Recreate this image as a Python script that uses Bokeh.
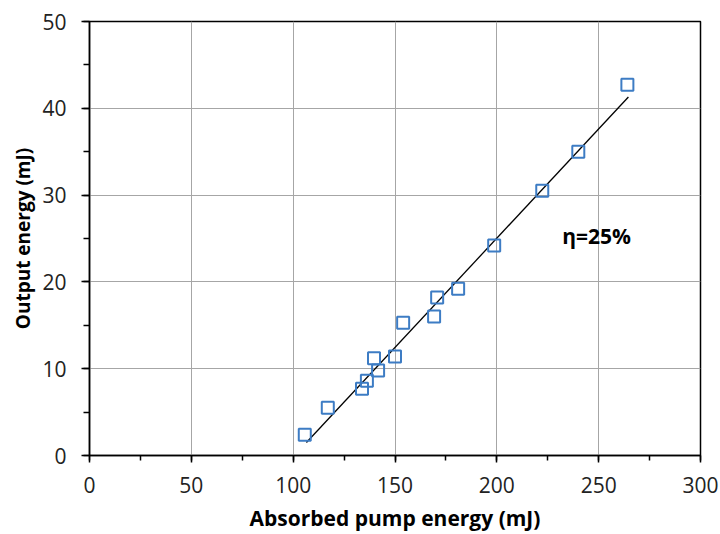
from bokeh.plotting import figure
from bokeh.models import SingleIntervalTicker, Range1d
from bokeh.core.properties import value
from bokeh.embed import file_html
from bokeh.resources import INLINE

absorbed = [105.7, 117.0, 133.8, 136.2, 139.7, 141.7, 150.0, 154.0, 169.2, 170.7, 181.0, 198.7, 222.3, 240.0, 264.1]
output = [2.4, 5.5, 7.7, 8.6, 11.2, 9.8, 11.4, 15.3, 16.0, 18.2, 19.2, 24.2, 30.5, 35.0, 42.7]
fit_x = [106.5, 264.6]
fit_y = [1.5, 41.3]
note_x = [249.0]
note_y = [25.3]
note_text = ["η=25%"]

FONT = "Open Sans"

p = figure(width=720, height=534, output_backend="svg", toolbar_location=None,
           x_range=Range1d(0, 300), y_range=Range1d(0, 50),
           min_border_left=89, min_border_right=20, min_border_top=21, min_border_bottom=79)

p.outline_line_color = "black"
p.outline_line_width = 1.5

p.xaxis.ticker = SingleIntervalTicker(interval=50, num_minor_ticks=2)
p.yaxis.ticker = SingleIntervalTicker(interval=10, num_minor_ticks=2)

for ax in (p.xaxis, p.yaxis):
    ax.axis_line_color = "black"
    ax.axis_line_width = 1.5
    ax.major_tick_line_color = "black"
    ax.minor_tick_line_color = "black"
    ax.major_tick_line_width = 1.5
    ax.minor_tick_line_width = 1.5
    ax.major_tick_in = 0
    ax.minor_tick_in = 0
    ax.major_label_text_font = FONT
    ax.major_label_text_font_size = "21px"
    ax.major_label_text_color = "#222222"
    ax.axis_label_text_font = FONT
    ax.axis_label_text_font_style = "bold"
    ax.axis_label_text_color = "black"

p.xaxis.axis_label_text_font_size = "21px"
p.yaxis.axis_label_text_font_size = "19px"
p.xaxis.major_tick_out = 7
p.xaxis.minor_tick_out = 5
p.yaxis.major_tick_out = 8
p.yaxis.minor_tick_out = 6
p.xaxis.major_label_standoff = 14
p.yaxis.major_label_standoff = 15
p.xaxis.axis_label = "Absorbed pump energy (mJ)"
p.yaxis.axis_label = "Output energy (mJ)"
p.xaxis.axis_label_standoff = 8
p.yaxis.axis_label_standoff = 3

p.grid.grid_line_color = "#a6a6a6"
p.grid.grid_line_width = 1

p.line(fit_x, fit_y, line_color="black", line_width=1.3)
p.scatter(absorbed, output, marker="square", size=12, fill_color=None,
          line_color="#3d7cc4", line_width=2)

p.text(x=note_x, y=note_y, text=note_text, text_font=value(FONT),
       text_font_size="21px", text_font_style="bold", text_align="center",
       text_baseline="middle", text_color="black")

open("out.html", "w").write(file_html(p, INLINE))
